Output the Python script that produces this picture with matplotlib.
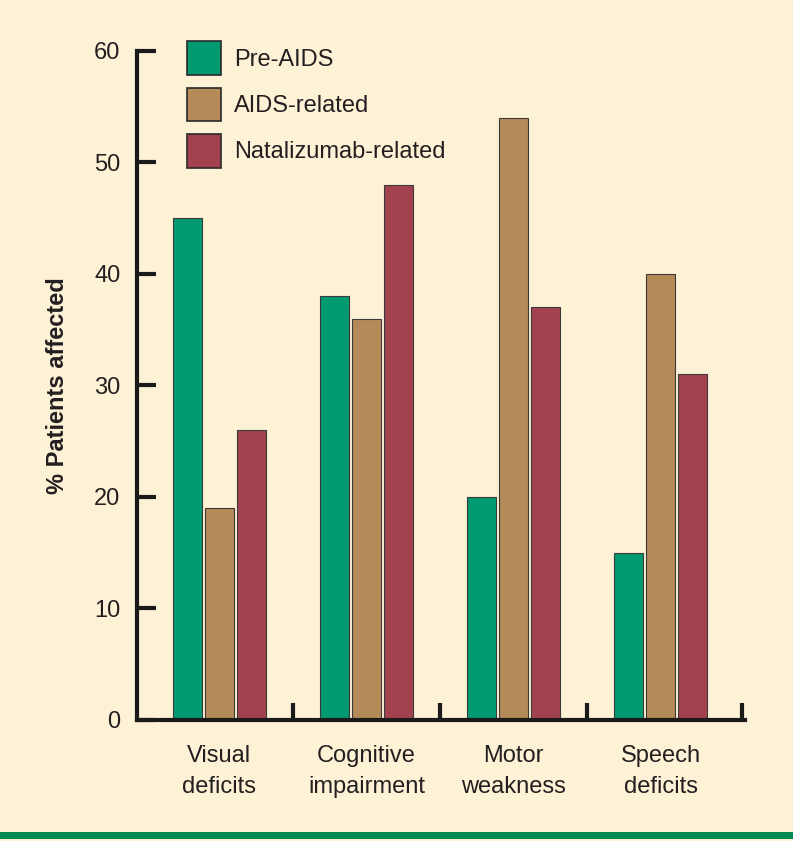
import numpy as np
import matplotlib
matplotlib.use("Agg")
import matplotlib.pyplot as plt
from matplotlib.patches import Rectangle, Patch

# data
categories = ["Visual\ndeficits", "Cognitive\nimpairment", "Motor\nweakness", "Speech\ndeficits"]
series_names = ["Pre-AIDS", "AIDS-related", "Natalizumab-related"]
pre_aids = [45, 38, 20, 15]
aids_related = [19, 36, 54, 40]
natalizumab = [26, 48, 37, 31]
y_ticks = [0, 10, 20, 30, 40, 50, 60]

colors = ["#009a70", "#b48b58", "#a3424f"]
bg = "#fdf2d5"
ink = "#231f20"

plt.rcParams['font.family'] = ['Liberation Sans', 'DejaVu Sans']

fig = plt.figure(figsize=(7.93, 8.41), dpi=100, facecolor=bg)
ax = fig.add_axes([0.1728, 0.1439, 0.7661, 0.7955], facecolor=bg)

x = np.arange(len(categories))
width = 0.195
step = 0.218
for i, vals in enumerate([pre_aids, aids_related, natalizumab]):
    ax.bar(x + (i - 1) * step, vals, width, color=colors[i],
           edgecolor="#3a3a3a", linewidth=0.8, label=series_names[i], zorder=2)

ax.set_xlim(-0.56, 3.57)
ax.set_ylim(0, 60)

for s in ["top", "right"]:
    ax.spines[s].set_visible(False)
for s in ["left", "bottom"]:
    ax.spines[s].set_linewidth(3)
    ax.spines[s].set_color("#1a1a1a")
    ax.spines[s].set_capstyle("projecting")

ax.set_yticks(y_ticks)
ax.tick_params(axis="y", direction="in", length=14, width=3, color="#1a1a1a",
               labelsize=17, labelcolor=ink, pad=12)
ax.set_xticks(x)
ax.set_xticklabels(categories, fontsize=17, color=ink, linespacing=1.55)
ax.tick_params(axis="x", which="major", length=0, pad=18)
ax.set_xticks([0.5, 1.5, 2.5, 3.55], minor=True)
ax.tick_params(axis="x", which="minor", direction="in", length=12, width=3,
               color="#1a1a1a")

ax.set_ylabel("% Patients affected", fontsize=17, fontweight="bold", color=ink,
              labelpad=18)

handles = [Patch(facecolor=c, edgecolor="#2a2a2a", linewidth=1.2) for c in colors]
ax.legend(handles, series_names, loc="upper left", bbox_to_anchor=(0.055, 1.039),
          frameon=False, fontsize=17, handlelength=1.45, handleheight=1.83,
          handletextpad=0.55, labelspacing=0.52, labelcolor=ink,
          borderaxespad=0.3)

# green stripe at the bottom
fig.patches.append(Rectangle((0, 0.002), 1, 0.009, transform=fig.transFigure,
                             facecolor="#008a52", edgecolor="none"))

fig.savefig("out.png", dpi=100, facecolor=bg)
